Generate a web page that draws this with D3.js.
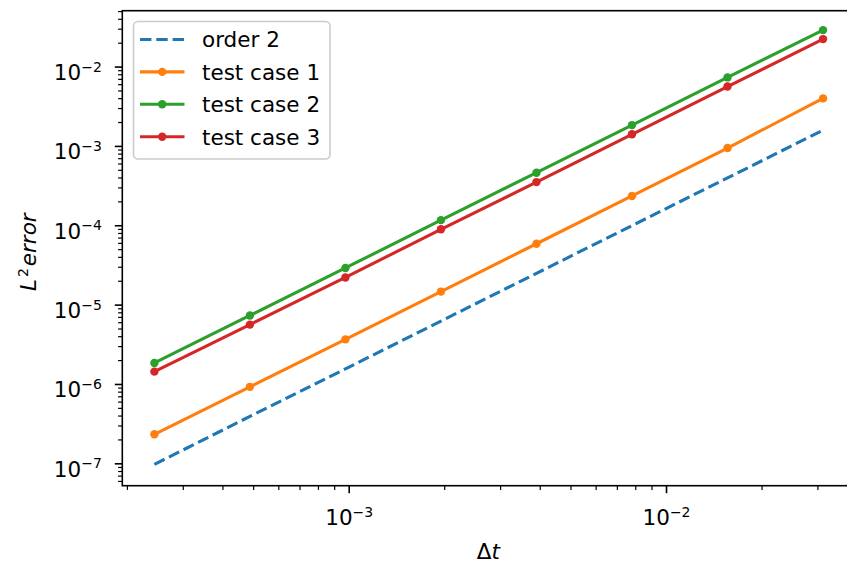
<!DOCTYPE html>
<html><head><meta charset="utf-8">
<script src="https://cdn.jsdelivr.net/npm/d3@7"></script>
<style>body{margin:0;background:#fff;overflow:hidden;} text{font-family:"DejaVu Sans";fill:#000;}</style>
</head><body><svg id="c" width="847" height="565"></svg>
<script>
// ---- data ----
const dt = [0.000244140625, 0.00048828125, 0.0009765625, 0.001953125, 0.00390625, 0.0078125, 0.015625, 0.03125];
const order2 = [9.7e-8, 3.9e-7, 1.55e-6, 6.2e-6, 2.48e-5, 9.9e-5, 3.95e-4, 1.58e-3];
const test1 = [2.32e-7, 9.2e-7, 3.65e-6, 1.46e-5, 5.85e-5, 2.34e-4, 9.4e-4, 3.97e-3];
const test2 = [1.84e-6, 7.3e-6, 2.9e-5, 1.16e-4, 4.6e-4, 1.83e-3, 7.3e-3, 2.88e-2];
const test3 = [1.43e-6, 5.6e-6, 2.2e-5, 8.9e-5, 3.5e-4, 1.4e-3, 5.6e-3, 2.22e-2];
const seriesNames = ["order 2", "test case 1", "test case 2", "test case 3"];
const xMajorExp = [-3, -2];
const yMajorExp = [-7, -6, -5, -4, -3, -2];

// ---- layout ----
const L = 122.3, R = 856.5, T = 10.7, B = 485.7;
const FS = 21.5, SUP = 14;
const colors = ["#1f77b4", "#ff7f0e", "#2ca02c", "#d62728"];

const svg = d3.select("#c");
const x = d3.scaleLog().domain([Math.pow(10, -3.7135), Math.pow(10, -1.3997)]).range([L, R]);
const y = d3.scaleLog().domain([Math.pow(10, -7.282), Math.pow(10, -1.296)]).range([B, T]);

// minor ticks
function minors(scale) {
  const [a, b] = scale.domain();
  const out = [];
  for (let e = Math.floor(Math.log10(a)); e <= Math.ceil(Math.log10(b)); e++) {
    for (let m = 2; m <= 9; m++) {
      const v = m * Math.pow(10, e);
      if (v >= a && v <= b) out.push(v);
    }
  }
  return out;
}

const gx = svg.append("g").attr("transform", `translate(0,${B})`);
gx.call(d3.axisBottom(x).tickValues(minors(x)).tickSize(4.2).tickSizeOuter(0).tickFormat(""))
  .call(g => g.select(".domain").remove())
  .call(g => g.selectAll("line").attr("stroke", "#000").attr("stroke-width", 1.2));
const gx2 = svg.append("g").attr("transform", `translate(0,${B})`);
gx2.call(d3.axisBottom(x).tickValues(xMajorExp.map(e => Math.pow(10, e))).tickSize(7.5).tickSizeOuter(0).tickFormat(""))
  .call(g => g.select(".domain").remove())
  .call(g => g.selectAll("line").attr("stroke", "#000").attr("stroke-width", 1.6));
gx2.selectAll(".tick").each(function(d, i) {
  const t = d3.select(this).append("text").attr("y", 39.5).attr("text-anchor", "middle")
    .attr("font-size", FS);
  t.append("tspan").text("10");
  t.append("tspan").attr("font-size", SUP).attr("dy", -8.5).text("\u2212" + Math.abs(xMajorExp[i]));
});

const gy = svg.append("g").attr("transform", `translate(${L},0)`);
gy.call(d3.axisLeft(y).tickValues(minors(y)).tickSize(4.2).tickSizeOuter(0).tickFormat(""))
  .call(g => g.select(".domain").remove())
  .call(g => g.selectAll("line").attr("stroke", "#000").attr("stroke-width", 1.2));
const gy2 = svg.append("g").attr("transform", `translate(${L},0)`);
gy2.call(d3.axisLeft(y).tickValues(yMajorExp.map(e => Math.pow(10, e))).tickSize(7.5).tickSizeOuter(0).tickFormat(""))
  .call(g => g.select(".domain").remove())
  .call(g => g.selectAll("line").attr("stroke", "#000").attr("stroke-width", 1.6));
gy2.selectAll(".tick").each(function(d, i) {
  const t = d3.select(this).append("text").attr("x", -20.5).attr("y", 13).attr("text-anchor", "end")
    .attr("font-size", FS);
  t.append("tspan").text("10");
  t.append("tspan").attr("font-size", SUP).attr("dy", -8.5).text("\u2212" + Math.abs(yMajorExp[i]));
});

// clip + series
svg.append("clipPath").attr("id", "clip").append("rect")
  .attr("x", L).attr("y", T).attr("width", R - L).attr("height", B - T);
const plot = svg.append("g").attr("clip-path", "url(#clip)");
const line = d3.line().x(d => x(d[0])).y(d => y(d[1]));
const allSeries = [order2, test1, test2, test3];
allSeries.forEach((vals, si) => {
  const pts = dt.map((d, i) => [d, vals[i]]);
  const p = plot.append("path").datum(pts).attr("d", line)
    .attr("fill", "none").attr("stroke", colors[si]).attr("stroke-width", 3.1)
    .attr("stroke-linecap", "butt");
  if (si === 0) {
    p.attr("stroke-dasharray", "11.4,4.9");
  } else {
    plot.selectAll(null).data(pts).enter().append("circle")
      .attr("cx", d => x(d[0])).attr("cy", d => y(d[1])).attr("r", 4.2)
      .attr("fill", colors[si]);
  }
});

// frame
svg.append("rect").attr("x", L).attr("y", T).attr("width", R - L).attr("height", B - T)
  .attr("fill", "none").attr("stroke", "#000").attr("stroke-width", 1.6);

// legend
const lg = svg.append("g");
lg.append("rect").attr("x", 133.5).attr("y", 21.5).attr("width", 196.5).attr("height", 137.5)
  .attr("rx", 4.5).attr("fill", "#fff").attr("fill-opacity", 0.8)
  .attr("stroke", "#cccccc").attr("stroke-width", 1.6);
seriesNames.forEach((name, i) => {
  const cy = 39.5 + i * 32.4;
  const ln = lg.append("line").attr("x1", 140).attr("x2", 184.5).attr("y1", cy).attr("y2", cy)
    .attr("stroke", colors[i]).attr("stroke-width", 3.1);
  if (i === 0) ln.attr("stroke-dasharray", "11.4,4.9");
  else lg.append("circle").attr("cx", 162.2).attr("cy", cy).attr("r", 4.2).attr("fill", colors[i]);
  lg.append("text").attr("x", 202).attr("y", cy + 7.8).attr("font-size", FS).text(name);
});

// axis labels
const xl = svg.append("text").attr("x", (L + R) / 2 - 1).attr("y", 559).attr("text-anchor", "middle").attr("font-size", FS);
xl.append("tspan").text("\u0394");
xl.append("tspan").attr("font-style", "italic").text("t");

const yl = svg.append("text").attr("transform", `translate(36,${(T + B) / 2 + 4}) rotate(-90)`)
  .attr("text-anchor", "middle").attr("font-size", FS);
yl.append("tspan").attr("font-style", "italic").text("L");
yl.append("tspan").attr("font-size", SUP).attr("dy", -8.5).attr("dx", 2).text("2");
yl.append("tspan").attr("font-style", "italic").attr("dy", 8.5).attr("dx", 2).text("error");
</script></body></html>
